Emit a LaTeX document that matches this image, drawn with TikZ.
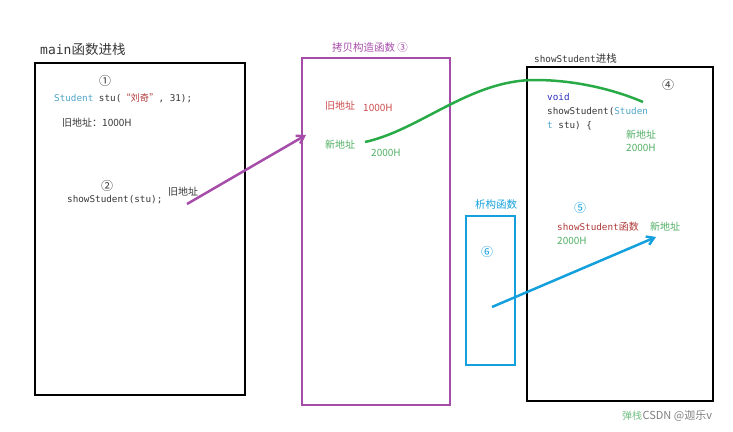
\documentclass[tikz,border=0pt]{standalone}
\usepackage{fontspec}
\setmainfont{Noto Sans CJK SC}
\newfontfamily\codefont{DejaVu Sans Mono}
\usepackage{tikz}
\usetikzlibrary{arrows.meta}
\definecolor{stackpurple}{RGB}{166,77,170}
\definecolor{addrgreen}{RGB}{40,170,70}
\definecolor{textgreen}{RGB}{80,175,100}
\definecolor{dtorcyan}{RGB}{20,160,220}
\definecolor{typecyan}{RGB}{80,165,200}
\definecolor{oldred}{RGB}{205,75,75}
\definecolor{strred}{RGB}{175,55,55}
\definecolor{kwblue}{RGB}{45,45,190}
\definecolor{codegray}{RGB}{55,55,55}

\begin{document}
\begin{tikzpicture}[x=1pt,y=-1pt,>={Straight Barb[length=7pt,width=9pt]},
  every node/.style={inner sep=0pt,font=\fontsize{10}{12}\selectfont,text=codegray},
  stackbox/.style={draw,line width=2.5pt},
  lbl/.style={anchor=west},
  stepno/.style={font=\fontsize{12}{13}\selectfont},
  code/.style={anchor=west,font=\fontsize{9.3}{11}\selectfont\codefont}]
  \useasboundingbox (0,0) rectangle (733,431);
  % frames
  \node[stackbox,minimum width=210pt,minimum height=332pt] (mainbox) at (140,229) {};
  \node[stackbox,draw=stackpurple,minimum width=148pt,minimum height=347pt] (copybox) at (376,231.5) {};
  \node[stackbox,minimum width=186pt,minimum height=334pt] (showbox) at (620,234) {};
  \node[stackbox,draw=dtorcyan,minimum width=49pt,minimum height=149pt] (dtorbox) at (490.5,290.5) {};
  % titles
  \node[lbl,font=\fontsize{13.5}{15}\selectfont] (maintitle) at (40,49) {{\codefont\fontsize{13}{15}\selectfont main}函数进栈};
  \node[text=stackpurple,font=\fontsize{10.5}{12}\selectfont] (copytitle) at (370,48) {拷贝构造函数 ③};
  \node[lbl,font=\fontsize{10.5}{12}\selectfont] (showtitle) at (534,59) {{\codefont\fontsize{9.3}{11}\selectfont showStudent}进栈};
  \node[text=dtorcyan,font=\fontsize{10.5}{12}\selectfont] (dtortitle) at (496,205) {析构函数};
  % main
  \node[stepno] (step1) at (105,81) {①};
  \node[code] (stuline) at (54,98) {\textcolor{typecyan}{Student} stu(\textcolor{strred}{\normalfont “刘奇”}, 31);};
  \node[lbl] (mainold) at (62,123) {旧地址：1000H};
  \node[stepno] (step2) at (107,186) {②};
  \node[code] (callline) at (67,200) {showStudent(stu);};
  \node[lbl] (calladdr) at (168,192) {旧地址};
  % copy constructor
  \node[lbl,text=oldred] (cpold) at (325,106) {旧地址};
  \node[lbl,text=oldred] (cpoldval) at (363,108) {1000H};
  \node[lbl,text=textgreen] (cpnew) at (325,145) {新地址};
  \node[lbl,text=textgreen] (cpnewval) at (371,153) {2000H};
  % showStudent
  \node[stepno] (step4) at (668,85) {④};
  \node[code,text=kwblue] (sigvoid) at (547,97) {void};
  \node[code] (signame) at (547,112) {showStudent(\textcolor{typecyan}{Studen}};
  \node[code] (sigarg) at (547,126) {\textcolor{typecyan}{t} stu) \{};
  \node[lbl,text=textgreen] (argnew) at (626,135) {新地址};
  \node[lbl,text=textgreen] (argnewval) at (626,148) {2000H};
  \node[stepno,text=dtorcyan] (step5) at (580,208) {⑤};
  \node[lbl,text=strred] (showfunc) at (557,227) {{\codefont\fontsize{9.3}{11}\selectfont showStudent}函数};
  \node[lbl,text=textgreen] (funcnew) at (650,227) {新地址};
  \node[lbl,text=textgreen] (funcnewval) at (557,241) {2000H};
  % destructor
  \node[stepno,text=dtorcyan] (step6) at (487,252) {⑥};
  % connector ends
  \coordinate (passfrom) at (187,204);
  \coordinate (passto) at (306,135);
  \coordinate (copyfrom) at (365,142);
  \coordinate (copyto) at (643,102);
  \coordinate (freefrom) at (492,307);
  \coordinate (freeto) at (656,237);
  \draw[->,stackpurple,line width=2.5pt] (passfrom) -- (passto);
  \draw[addrgreen,line width=2.5pt] (copyfrom) .. controls (420,130) and (470,80) .. (535,80)
    .. controls (580,80) and (620,92) .. (copyto);
  \draw[->,dtorcyan,line width=2.5pt] (freefrom) -- (freeto);
  % watermark
  \node[lbl,text=textgreen!80] (popmark) at (622,416) {弹栈};
  \node[lbl,text=gray,font=\fontsize{11}{12}\selectfont] (csdn) at (popmark.east) {CSDN @迦乐v};
\end{tikzpicture}
\end{document}
